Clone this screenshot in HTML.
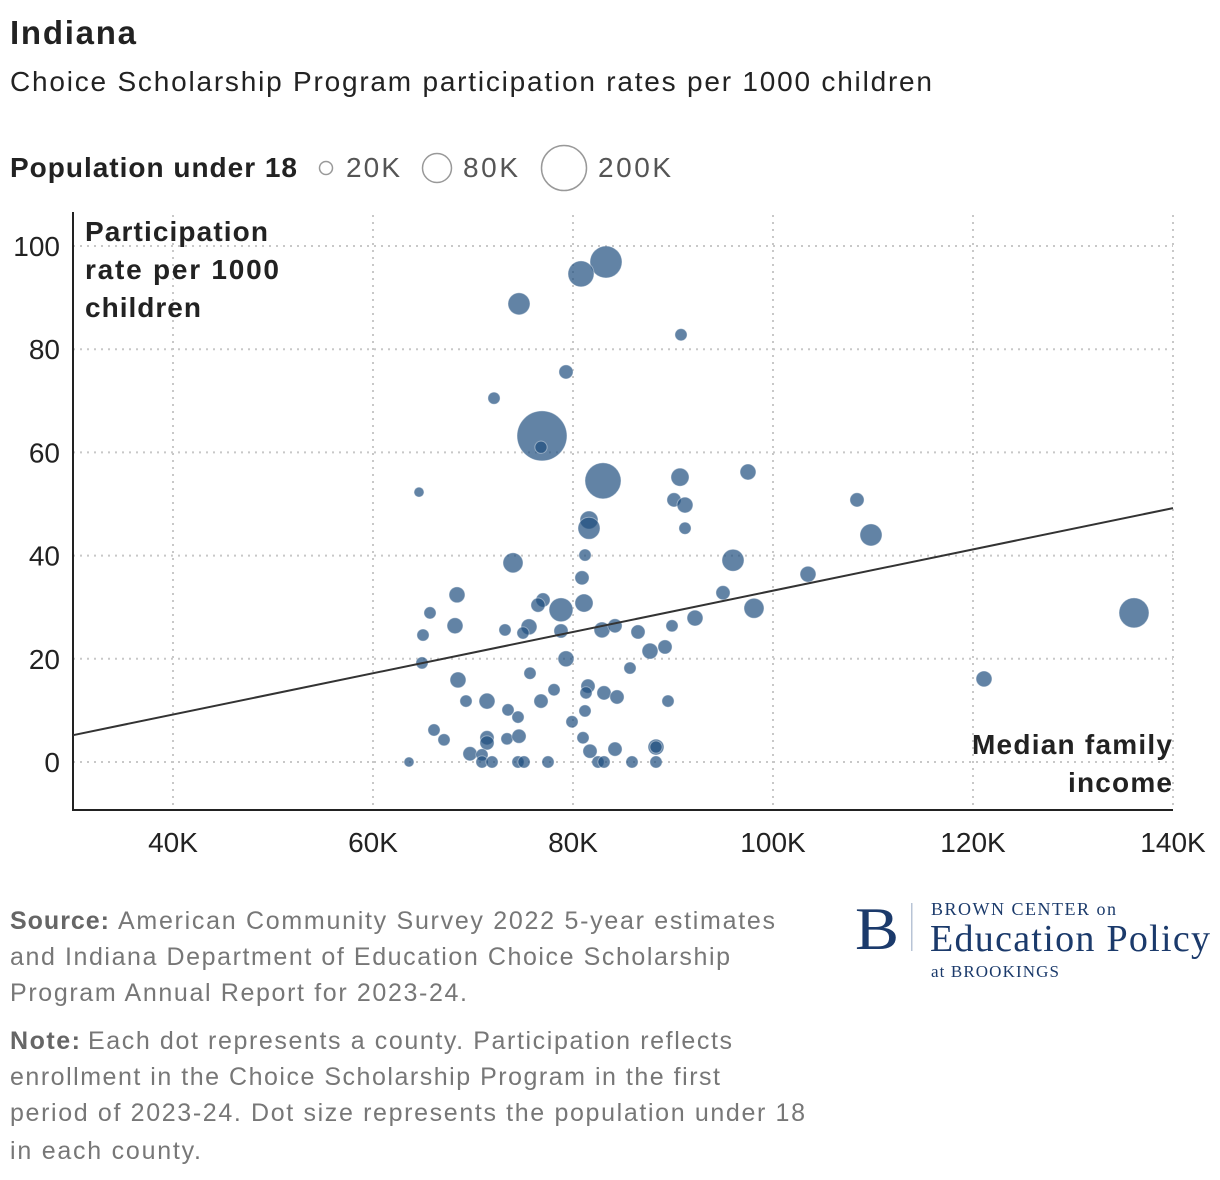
<!DOCTYPE html>
<html><head><meta charset="utf-8">
<style>
html,body{margin:0;padding:0;background:#fff;}
svg{display:block;font-family:"Liberation Sans",sans-serif;}
</style></head>
<body>
<svg id="chart" width="1220" height="1180" viewBox="0 0 1220 1180" xmlns="http://www.w3.org/2000/svg">
<text x="10" y="44" font-size="33" font-weight="bold" fill="#222" textLength="126" lengthAdjust="spacing">Indiana</text>
<text x="10" y="91" font-size="28" fill="#222" textLength="922" lengthAdjust="spacing">Choice Scholarship Program participation rates per 1000 children</text>
<g>
<text x="10" y="177" font-size="28" font-weight="bold" fill="#222" textLength="287" lengthAdjust="spacing">Population under 18</text>
<circle cx="326" cy="168" r="6.5" fill="none" stroke="#999" stroke-width="1.5"/>
<text x="346" y="177" font-size="28" fill="#555" textLength="54" lengthAdjust="spacing">20K</text>
<circle cx="437" cy="168" r="14.5" fill="none" stroke="#999" stroke-width="1.5"/>
<text x="463" y="177" font-size="28" fill="#555" textLength="55" lengthAdjust="spacing">80K</text>
<circle cx="564" cy="168" r="22.5" fill="none" stroke="#999" stroke-width="1.5"/>
<text x="598" y="177" font-size="28" fill="#555" textLength="73" lengthAdjust="spacing">200K</text>
</g>
<g id="grid"></g>
<g id="axes"></g>
<g id="dots"></g>
<g id="trend"></g>
<g font-size="28" font-weight="bold" fill="#222">
<text x="85" y="241" textLength="183" lengthAdjust="spacing">Participation</text>
<text x="85" y="279" textLength="194" lengthAdjust="spacing">rate per 1000</text>
<text x="85" y="317" textLength="116" lengthAdjust="spacing">children</text>
</g>
<g font-size="28" font-weight="bold" fill="#222">
<text x="972" y="754" textLength="200" lengthAdjust="spacing">Median family</text>
<text x="1068" y="792" textLength="104" lengthAdjust="spacing">income</text>
</g>
<g font-size="25" fill="#777">
<text x="10" y="929" font-weight="bold" fill="#666" textLength="99" lengthAdjust="spacing">Source:</text>
<text x="118" y="929" textLength="657" lengthAdjust="spacing">American Community Survey 2022 5-year estimates</text>
<text x="10" y="965" textLength="720" lengthAdjust="spacing">and Indiana Department of Education Choice Scholarship</text>
<text x="10" y="1001" textLength="457" lengthAdjust="spacing">Program Annual Report for 2023-24.</text>
</g>
<g font-size="25" fill="#777">
<text x="10" y="1049" font-weight="bold" fill="#666" textLength="70" lengthAdjust="spacing">Note:</text>
<text x="88" y="1049" textLength="644" lengthAdjust="spacing">Each dot represents a county. Participation reflects</text>
<text x="10" y="1085" textLength="710" lengthAdjust="spacing">enrollment in the Choice Scholarship Program in the first</text>
<text x="10" y="1121" textLength="795" lengthAdjust="spacing">period of 2023-24. Dot size represents the population under 18</text>
<text x="10" y="1159" textLength="191" lengthAdjust="spacing">in each county.</text>
</g>
<g fill="#1b3a6b" font-family="Liberation Serif, serif">
<text x="855" y="949" font-size="60" textLength="44" lengthAdjust="spacingAndGlyphs">B</text>
<rect x="911" y="903" width="1.5" height="48" fill="#b8c4d6"/>
<text x="931" y="915" font-size="18" textLength="185" lengthAdjust="spacing">BROWN CENTER on</text>
<text x="930" y="951" font-size="38" textLength="280" lengthAdjust="spacing">Education Policy</text>
<text x="931" y="977" font-size="17" textLength="128" lengthAdjust="spacing">at BROOKINGS</text>
</g>
</svg>
<script>
const incomeK = [83.3,80.8,74.6,90.8,79.3,72.1,76.9,76.8,83.0,64.6,90.7,97.5,90.1,91.2,81.6,81.6,108.4,109.8,91.2,81.2,96.0,74.0,80.9,103.5,68.4,65.7,78.8,81.1,77.0,76.5,95.0,98.1,136.1,68.2,73.2,75.6,75.0,78.8,82.9,84.2,86.5,89.9,92.2,65.0,64.9,79.3,87.7,89.2,85.7,68.5,71.4,69.3,75.7,78.1,81.5,81.3,83.1,84.4,89.5,76.8,73.5,74.5,81.2,79.9,66.1,67.1,71.4,71.4,73.4,74.6,81.0,81.7,84.2,88.3,88.3,69.7,70.9,70.9,71.9,63.6,74.5,75.1,77.5,82.5,83.1,85.9,88.3,121.1];
const rates = [96.9,94.6,88.8,82.8,75.6,70.5,63.2,61.0,54.5,52.3,55.2,56.2,50.8,49.8,46.9,45.3,50.8,44.0,45.3,40.1,39.1,38.6,35.7,36.4,32.4,28.9,29.5,30.8,31.4,30.4,32.8,29.8,28.9,26.4,25.6,26.2,25.0,25.4,25.6,26.4,25.2,26.4,27.9,24.6,19.2,20.0,21.5,22.3,18.2,15.9,11.8,11.8,17.2,14.0,14.7,13.4,13.4,12.6,11.8,11.8,10.1,8.7,9.9,7.8,6.2,4.3,4.7,3.7,4.5,5.0,4.7,2.1,2.5,2.9,2.9,1.6,1.4,0,0,0,0,0,0,0,0,0,0,16.1];
const popK = [97,64,46,14,19,14,236,14,123,9.5,31,24,19,24,31,46,19,46,14,14,46,38,19,24,24,14,54,31,19,19,19,38,85,24,14,24,14,19,24,19,19,14,24,14,14,24,24,19,14,24,24,14,14,14,19,14,19,19,14,19,14,14,14,14,14,14,19,19,14,19,14,19,19,24,14,19,14,14,14,9.5,14,14,14,14,14,14,14,24];
const xTicks = [40,60,80,100,120,140];
const xTickLabels = ["40K","60K","80K","100K","120K","140K"];
const yTicks = [0,20,40,60,80,100];
const trendX = [30,140];
const trendY = [5.2,49.2];

const NS="http://www.w3.org/2000/svg";
const X = v => 73 + (v-30)*10;
const Y = v => 762 - v*5.16;
const R = p => 1.626*Math.sqrt(p);
function mk(tag, attrs, parent){const e=document.createElementNS(NS,tag);for(const k in attrs)e.setAttribute(k,attrs[k]);parent.appendChild(e);return e;}
const grid=document.getElementById('grid'), axes=document.getElementById('axes'), dots=document.getElementById('dots'), trend=document.getElementById('trend');
xTicks.forEach((t,i)=>{
  const l=mk('line',{x1:X(t),x2:X(t),y1:215,y2:810,stroke:'#c8c8c8','stroke-width':2,'stroke-dasharray':'2 5'},grid);
  
  
  const tx=mk('text',{x:X(t),y:852,'font-size':28,'text-anchor':'middle',fill:'#222'},axes);
  tx.textContent=xTickLabels[i];
  
  
});
yTicks.forEach(t=>{
  const l=mk('line',{x1:73,x2:1173,y1:Y(t),y2:Y(t),stroke:'#c8c8c8','stroke-width':2,'stroke-dasharray':'2 5'},grid);
  
  
  const tx=mk('text',{x:60,y:Y(t)+10,'font-size':28,'text-anchor':'end',fill:'#222'},axes);
  tx.textContent=String(t);
  
  
});
const ya=mk('line',{x1:73,x2:73,y1:212,y2:811,stroke:'#222','stroke-width':2},axes);


const xa=mk('line',{x1:72,x2:1173,y1:810,y2:810,stroke:'#222','stroke-width':2},axes);


incomeK.forEach((v,i)=>{
  const c=mk('circle',{cx:X(v),cy:Y(rates[i]),r:R(popK[i]),fill:'#1f4e7f','fill-opacity':0.7,stroke:'#fff','stroke-opacity':0.4,'stroke-width':1},dots);
  
  
});
const tl=mk('line',{x1:X(trendX[0]),y1:Y(trendY[0]),x2:X(trendX[1]),y2:Y(trendY[1]),stroke:'#333','stroke-width':2},trend);


</script>
</body></html>
